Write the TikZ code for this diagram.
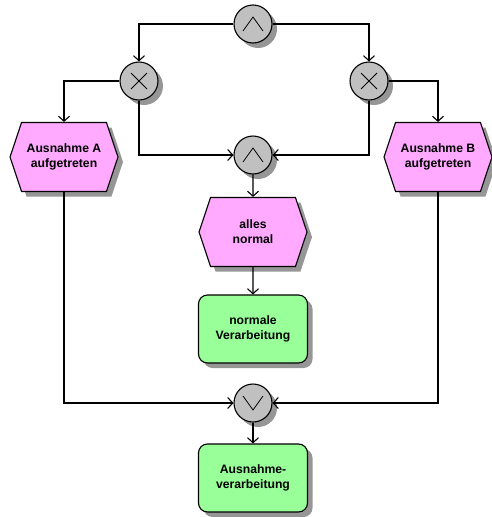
\documentclass[tikz,border=0pt]{standalone}
\usepackage{fontspec}
\setsansfont{Liberation Sans}
\usetikzlibrary{arrows.meta}
\usetikzlibrary{shapes}
\usetikzlibrary{backgrounds,shadows}

\definecolor{eventpink}{RGB}{255,170,255}
\definecolor{funcgreen}{RGB}{153,255,153}
\definecolor{gategray}{RGB}{192,192,192}
\definecolor{shadowgray}{RGB}{150,150,150}

\tikzset{
  shade it/.style={drop shadow={shadow xshift=5pt, shadow yshift=-5pt, fill=shadowgray, opacity=1}},
  label font/.style={font=\sffamily\bfseries\fontsize{12.2}{15}\selectfont, align=center},
  event/.style={draw, signal, signal to=west and east, signal pointer angle=143,
    fill=eventpink, minimum width=108pt, minimum height=69pt, inner sep=0pt, label font, shade it},
  func/.style={draw, rectangle, rounded corners=9pt, fill=funcgreen,
    minimum width=109pt, minimum height=68pt, inner sep=0pt, label font, shade it},
  gate/.style={draw, circle, fill=gategray, minimum size=38pt, inner sep=0pt, shade it},
  andgate/.style={gate, path picture={
    \draw[line width=0.8pt] ([shift={(-10pt,-7pt)}]path picture bounding box.center)
      -- ([shift={(0pt,7pt)}]path picture bounding box.center)
      -- ([shift={(10pt,-7pt)}]path picture bounding box.center);}},
  orgate/.style={gate, path picture={
    \draw[line width=0.8pt] ([shift={(-10pt,7pt)}]path picture bounding box.center)
      -- ([shift={(0pt,-7pt)}]path picture bounding box.center)
      -- ([shift={(10pt,7pt)}]path picture bounding box.center);}},
  xorgate/.style={gate, path picture={
    \draw[line width=0.8pt] ([shift={(-8pt,-8pt)}]path picture bounding box.center)
      -- ([shift={(8pt,8pt)}]path picture bounding box.center);
    \draw[line width=0.8pt] ([shift={(-8pt,8pt)}]path picture bounding box.center)
      -- ([shift={(8pt,-8pt)}]path picture bounding box.center);}},
}

\begin{document}
\begin{tikzpicture}[x=1pt, y=-1pt, line width=1.1pt, >={Straight Barb[length=5pt,width=11pt]}]

    \useasboundingbox (0,0) rectangle (492,517);

        % Declare the connectors
        \node[andgate] at (253, 24) (and1) {};
        \node[xorgate] at (139, 81) (xor1) {};
        \node[xorgate] at (369, 81) (xor2) {};
        \node[andgate] at (253, 155) (and2) {};
        \node[orgate] at (253, 403) (or1) {};

        % Declare the events
        \node[event] at (64, 157) (evA) {Ausnahme A\\aufgetreten};
        \node[event] at (438, 157) (evB) {Ausnahme B\\aufgetreten};
        \node[event] at (253, 232) (evOk) {alles\\normal};

        % Declare the functions
        \node[func] at (253, 329) (fnOk) {normale\\Verarbeitung};
        \node[func] at (253, 478) (fnEx) {Ausnahme-\\verarbeitung};

        % Declare edges
        \draw[->] (and1) -| (xor1);
        \draw[->] (and1) -| (xor2);
        \draw[->] (xor1) -| (evA);
        \draw[->] (xor2) -| (evB);
        \draw[->] (xor1) |- (and2);
        \draw[->] (xor2) |- (and2);
        \draw[->] (and2) -- (evOk);
        \draw[->] (evOk) -- (fnOk);
        \draw[->] (evA) |- (or1);
        \draw[->] (evB) |- (or1);
        \draw[->] (or1) -- (fnEx);

    \end{tikzpicture}
\end{document}
